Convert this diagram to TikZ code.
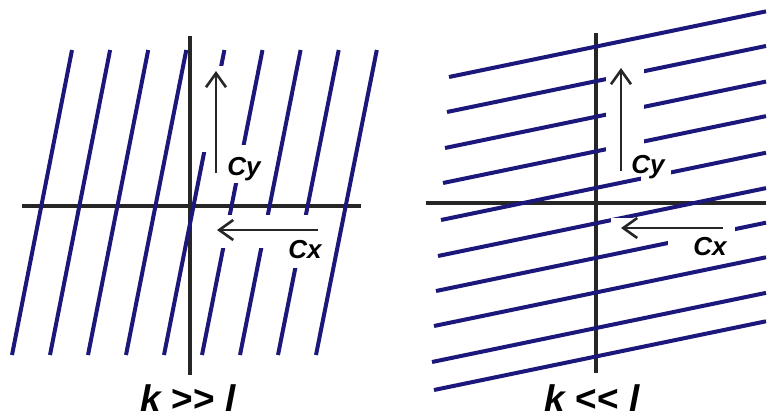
\documentclass[tikz,border=0pt]{standalone}
\usepackage{fontspec}
\setmainfont{Liberation Sans}
\usepackage{xcolor}
\usepackage{tikz}
\usetikzlibrary{arrows.meta}
\definecolor{waveblue}{HTML}{1C177A}

\begin{document}
\begin{tikzpicture}[x=0.5pt, y=-0.5pt,
  axis/.style={draw=black!85, line width=2pt},
  wave/.style={draw=waveblue, line width=2pt},
  gap/.style={fill=white},
  vel/.style={draw=black!85, line width=1.3pt, -{Straight Barb[length=7pt,width=10pt]}},
  lbl/.style={font=\fontsize{13}{14}\selectfont\bfseries\itshape, inner sep=0pt, anchor=base west},
  ratio/.style={font=\fontsize{18.5}{20}\selectfont\bfseries, inner sep=0pt, anchor=base}]
\useasboundingbox (0,0) rectangle (767,419);

% left panel, k >> l
\coordinate (lv-top) at (190,36);
\coordinate (lv-bot) at (190,375);
\coordinate (lh-left) at (22,206);
\coordinate (lh-right) at (361,206);
\draw[axis] (lv-top) -- (lv-bot);
\draw[axis] (lh-left) -- (lh-right);
\foreach \i in {0,...,8}
  \draw[wave] ({72+38.1*\i},50) -- ({12+38*\i},355);
\fill[gap] (200,66) rectangle (238,152);
\fill[gap] (225,145) rectangle (262,183);
\fill[gap] (208,215) rectangle (325,248);
\fill[gap] (285,238) rectangle (325,268);
\coordinate (lcy-tail) at (216,173);
\coordinate (lcy-head) at (216,71);
\coordinate (lcx-tail) at (318,230);
\coordinate (lcx-head) at (217,230);
\draw[vel] (lcy-tail) -- (lcy-head);
\draw[vel] (lcx-tail) -- (lcx-head);
\node[lbl] (lcy) at (227,175) {Cy};
\node[lbl] (lcx) at (288,258) {Cx};
\node[ratio] (lratio) at (188,411) {\itshape k \upshape >\kern0pt> \itshape l};

% right panel, k << l
\coordinate (rv-top) at (596,33);
\coordinate (rv-bot) at (596,373);
\coordinate (rh-left) at (426,203);
\coordinate (rh-right) at (766,203);
\draw[axis] (rv-top) -- (rv-bot);
\draw[axis] (rh-left) -- (rh-right);
\foreach \xl/\yl in {449/77, 447/112, 445/148, 443/183, 441/220, 438/256, 436/291, 434/326, 432/362, 434/390}
  \draw[wave] (\xl,\yl) -- (766,{\yl-0.207*(766-\xl)});
\fill[gap] (606,62) rectangle (644,160);
\fill[gap] (641,150) rectangle (671,186);
\fill[gap] (611,218) rectangle (725,238);
\fill[gap] (668,226) rectangle (735,260);
\coordinate (rcy-tail) at (621,171);
\coordinate (rcy-head) at (621,68);
\coordinate (rcx-tail) at (723,228);
\coordinate (rcx-head) at (621,228);
\draw[vel] (rcy-tail) -- (rcy-head);
\draw[vel] (rcx-tail) -- (rcx-head);
\node[lbl] (rcy) at (631,173) {Cy};
\node[lbl] (rcx) at (693,255) {Cx};
\node[ratio] (rratio) at (592,411) {\itshape k \upshape <\kern0pt< \itshape l};
\end{tikzpicture}
\end{document}
